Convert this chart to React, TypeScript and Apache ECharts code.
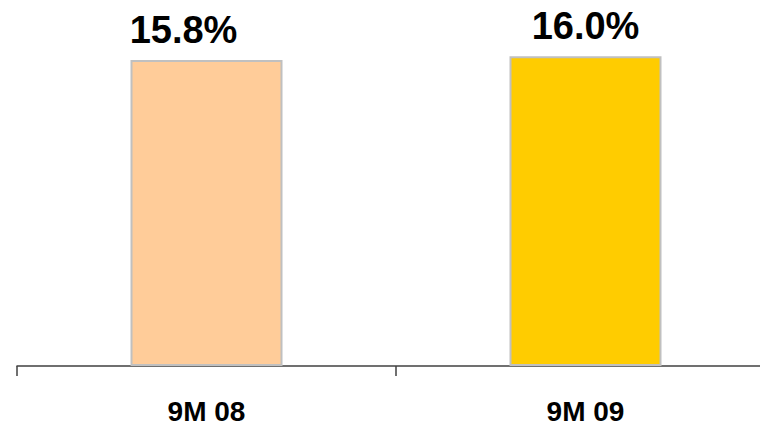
import React, { useEffect, useRef } from "react";
import * as echarts from "echarts";

const categories = ["9M 08", "9M 09"];
const values = [15.8, 16.0];
const barColors = ["#FFCC99", "#FFCC00"];
const valueLabels = ["15.8%", "16.0%"];

export default function App() {
  const ref = useRef<HTMLDivElement>(null);

  useEffect(() => {
    if (!ref.current) return;
    const chart = echarts.init(ref.current, null, { renderer: "svg" });
    const font = "'Liberation Sans', Arial, sans-serif";
    chart.setOption({
      animation: false,
      // the axis runs past the right edge of the canvas
      grid: { left: 17, width: 758, top: 0, bottom: 59, outerBoundsMode: "none", containLabel: false },
      xAxis: {
        type: "category",
        data: categories,
        boundaryGap: true,
        axisLine: { show: true, lineStyle: { color: "#404040", width: 1.5 } },
        axisTick: { show: true, length: 10, lineStyle: { color: "#404040", width: 1.5 } },
        axisLabel: {
          margin: 31,
          color: "#000",
          fontFamily: font,
          fontWeight: "bold",
          fontSize: 28,
        },
      },
      yAxis: {
        type: "value",
        min: 0,
        max: 18.9,
        show: false,
        splitLine: { show: false },
      },
      series: [
        {
          type: "bar",
          barWidth: 152,
          data: values.map((v, i) => ({
            value: v,
            itemStyle: { color: barColors[i] },
            label: {
              show: true,
              position: "top",
              distance: 11,
              offset: i === 0 ? [-23, 0] : [0, 0],
              formatter: valueLabels[i],
              color: "#000",
              fontFamily: font,
              fontWeight: "bold",
              fontSize: 38,
            },
          })),
          itemStyle: { borderColor: "#C0C0C0", borderWidth: 2 },
        },
      ],
    });
    return () => chart.dispose();
  }, []);

  return (
    <div
      ref={ref}
      style={{ position: "fixed", left: 0, top: 0, width: 760, height: 425, background: "#fff" }}
    />
  );
}
